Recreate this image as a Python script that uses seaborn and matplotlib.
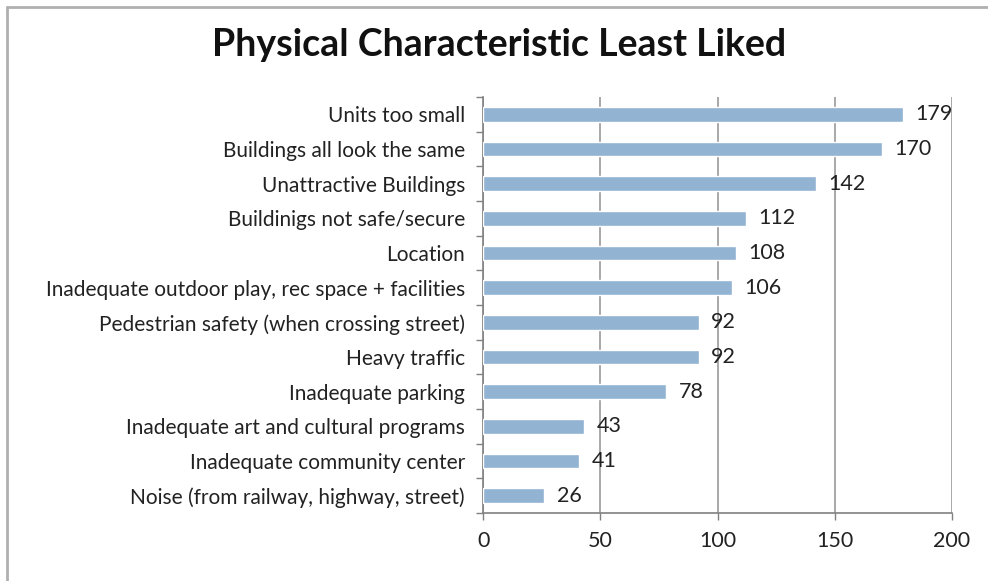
import matplotlib
matplotlib.use("Agg")
import matplotlib.pyplot as plt
import seaborn as sns
import pandas as pd
from matplotlib.lines import Line2D

categories = [
    "Units too small",
    "Buildings all look the same",
    "Unattractive Buildings",
    "Buildinigs not safe/secure",
    "Location",
    "Inadequate outdoor play, rec space + facilities",
    "Pedestrian safety (when crossing street)",
    "Heavy traffic",
    "Inadequate parking",
    "Inadequate art and cultural programs",
    "Inadequate community center",
    "Noise (from railway, highway, street)",
]
values = [179, 170, 142, 112, 108, 106, 92, 92, 78, 43, 41, 26]
xticks = [0, 50, 100, 150, 200]

df = pd.DataFrame({"category": categories, "value": values})

sns.set_theme(style="white")
plt.rcParams['font.family'] = ['Lato', 'DejaVu Sans']

fig = plt.figure(figsize=(9.88, 5.81), dpi=100)
ax = fig.add_axes([0.489, 0.117, 0.4745, 0.716])

sns.barplot(data=df, x="value", y="category", color="#93B3D3", width=0.42,
            saturation=1, ax=ax, zorder=3)

ax.set_xlim(0, 200)
ax.set_xticks(xticks)
ax.set_xticklabels([str(t) for t in xticks], fontsize=15.5, color="#222222")
ax.set_xlabel("")
ax.set_ylabel("")
ax.set_yticks(range(len(categories)))
ax.set_yticklabels(categories, fontsize=15, color="#222222")
ax.set_yticks([i + 0.5 for i in range(-1, len(categories))], minor=True)
ax.tick_params(axis="y", which="major", length=0, pad=13)
ax.tick_params(axis="y", which="minor", length=5, color="#808080", width=1, left=True)
ax.tick_params(axis="x", length=5, color="#808080", width=1, direction="out",
               pad=8, bottom=True)

ax.grid(axis="x", color="#999999", linewidth=1.2, zorder=0)
ax.set_axisbelow(True)
for s in ["top", "right"]:
    ax.spines[s].set_visible(False)
for s in ["left", "bottom"]:
    ax.spines[s].set_color("#808080")
    ax.spines[s].set_linewidth(1.2)

for container in ax.containers:
    ax.bar_label(container, labels=[str(v) for v in values], padding=9,
                 fontsize=15.5, color="#222222")

fig.text(0.505, 0.922, "Physical Characteristic Least Liked", ha="center",
         va="center", fontsize=27, fontweight="bold", color="#111111")

# outer frame (top and left lines)
fig.add_artist(Line2D([0.007, 1.0], [0.988, 0.988], transform=fig.transFigure,
                      color="#b0b0b0", linewidth=2))
fig.add_artist(Line2D([0.007, 0.007], [0.0, 0.988], transform=fig.transFigure,
                      color="#b0b0b0", linewidth=2))

fig.savefig("out.png", dpi=100)
